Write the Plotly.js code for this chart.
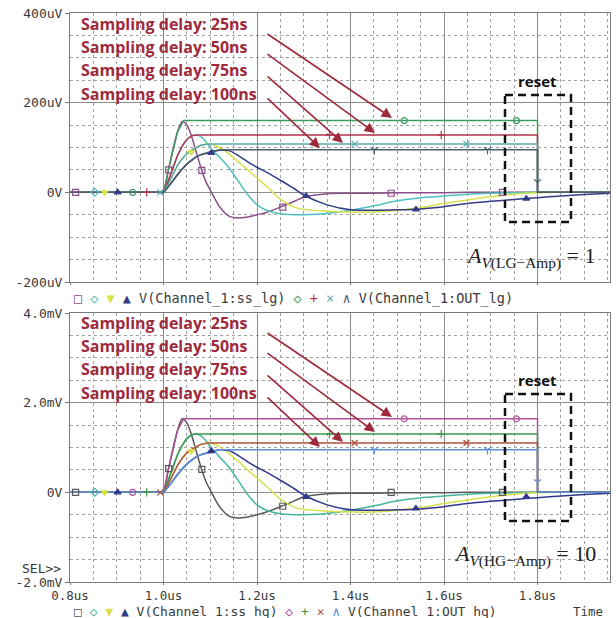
<!DOCTYPE html>
<html>
<head>
<meta charset="utf-8">
<script src="https://cdn.plot.ly/plotly-3.0.1.min.js"></script>
<style>html,body{margin:0;padding:0;background:#fff;}#chart{width:616px;height:618px;}</style>
</head>
<body>
<div id="chart"></div>
<script>
// ---------- DATA ----------
// common time grid (us) for the shaped pulses
const T = [0.8, 0.9, 0.99, 1.0, 1.01, 1.02, 1.03, 1.04, 1.05, 1.06, 1.07, 1.08, 1.09, 1.1, 1.12, 1.14, 1.16, 1.18, 1.2, 1.22, 1.25, 1.28, 1.3, 1.35, 1.4, 1.45, 1.5, 1.55, 1.6, 1.65, 1.7, 1.75, 1.8, 1.85, 1.9, 1.955];

// top panel pulses V(Channel_1:ss_lg), uV
const ssLg1 = [0,0,0,0,48,95,135,158,150,125,90,55,25,5,-32,-53,-57,-55,-50,-45,-33,-20,-11,-3,-2,-2,-1,-1,-1,0,0,0,0,0,0,0];
const ssLg2 = [0,0,0,0,25,55,82,103,118,126,128,124,114,100,78,55,25,-5,-28,-40,-48,-50,-50,-47,-40,-30,-19,-12,-8,-4,-2,-1,0,0,0,0];
const ssLg3 = [0,0,0,0,18,40,60,75,86,94,100,105,108,108,100,86,68,50,32,14,-15,-33,-38,-42,-44,-44,-40,-34,-25,-17,-10,-4,-1,0,0,0];
const ssLg4 = [0,0,0,0,12,26,40,52,63,72,79,84,87,90,94,93,82,68,56,45,27,8,-6,-28,-39,-40,-39,-37,-32,-25,-20,-16,-12,-8,-5,-2];

// held outputs (sample & hold), time arrays shared by both panels
const tH1 = [0.8, 1.0, 1.01, 1.02, 1.03, 1.043, 1.8, 1.8, 1.955];
const tH2 = [0.8, 1.0, 1.01, 1.02, 1.03, 1.04, 1.05, 1.06, 1.068, 1.8, 1.8, 1.955];
const tH3 = [0.8, 1.0, 1.01, 1.02, 1.03, 1.04, 1.05, 1.06, 1.07, 1.08, 1.095, 1.8, 1.8, 1.955];
const tH4 = [0.8, 1.0, 1.01, 1.02, 1.03, 1.04, 1.05, 1.06, 1.07, 1.08, 1.09, 1.1, 1.12, 1.8, 1.8, 1.955];
const outLg1 = [0,0,48,95,135,160,160,0,0];
const outLg2 = [0,0,25,55,82,103,118,126,128,128,0,0];
const outLg3 = [0,0,18,40,60,75,86,94,100,105,108,108,0,0];
const outLg4 = [0,0,12,26,40,52,63,72,79,84,87,90,95,95,0,0];

// bottom panel pulses V(Channel_1:ss_hq), mV
const ssHq1 = [0,0,0,0,0.49,0.97,1.38,1.64,1.55,1.28,0.92,0.56,0.26,0.05,-0.32,-0.53,-0.57,-0.55,-0.50,-0.44,-0.32,-0.19,-0.10,-0.03,-0.02,-0.02,-0.01,-0.01,-0.01,0,0,0,0,0,0,0];
const ssHq2 = [0,0,0,0,0.26,0.56,0.84,1.05,1.20,1.28,1.30,1.26,1.16,1.02,0.79,0.56,0.26,-0.05,-0.28,-0.40,-0.48,-0.50,-0.50,-0.47,-0.40,-0.30,-0.19,-0.12,-0.08,-0.04,-0.02,-0.01,0,0,0,0];
const ssHq3 = [0,0,0,0,0.18,0.40,0.60,0.76,0.88,0.96,1.02,1.07,1.10,1.10,1.02,0.87,0.69,0.50,0.32,0.14,-0.15,-0.33,-0.38,-0.42,-0.44,-0.44,-0.40,-0.34,-0.25,-0.17,-0.10,-0.04,-0.01,0,0,0];
const ssHq4 = [0,0,0,0,0.12,0.26,0.40,0.52,0.63,0.72,0.79,0.84,0.87,0.90,0.95,0.93,0.82,0.68,0.56,0.45,0.27,0.08,-0.06,-0.28,-0.39,-0.40,-0.39,-0.37,-0.32,-0.25,-0.20,-0.16,-0.12,-0.08,-0.05,-0.02];
const outHq1 = [0,0,0.49,0.97,1.38,1.64,1.64,0,0];
const outHq2 = [0,0,0.26,0.56,0.84,1.05,1.20,1.28,1.30,1.30,0,0];
const outHq3 = [0,0,0.18,0.40,0.60,0.76,0.88,0.96,1.02,1.07,1.10,1.10,0,0];
const outHq4 = [0,0,0.12,0.26,0.40,0.52,0.63,0.72,0.79,0.84,0.87,0.90,0.95,0.95,0,0];

// trace marker positions (PSpice symbols)
const mkT_ss1 = [0.812, 1.011, 1.082, 1.255, 1.487, 1.725];
const mkLg_ss1 = [0, 50, 49, -33, -2, 0];
const mkHq_ss1 = [0, 0.53, 0.51, -0.31, 0, 0];
const mkT_ss2 = [0.853];
const mkLg_ss2 = [0];
const mkHq_ss2 = [0];
const mkT_ss3 = [0.874, 1.059];
const mkLg_ss3 = [0, 90];
const mkHq_ss3 = [0, 0.92];
const mkT_ss4 = [0.902, 1.102, 1.305, 1.54, 1.776];
const mkLg_ss4 = [0, 88, -8, -38, -14];
const mkHq_ss4 = [0, 0.92, -0.10, -0.36, -0.10];
const mkT_out1 = [0.934, 1.515, 1.755];
const mkLg_out1 = [0, 160, 160];
const mkHq_out1 = [0, 1.64, 1.64];
const mkT_out2 = [0.964, 1.355, 1.594];
const mkLg_out2 = [0, 128, 128];
const mkHq_out2 = [0, 1.30, 1.30];
const mkT_out3 = [0.993, 1.409, 1.648];
const mkLg_out3 = [0, 108, 108];
const mkHq_out3 = [0, 1.10, 1.10];
const mkT_out4 = [1.451, 1.693, 1.8];
const mkLg_out4 = [95, 95, 23];
const mkHq_out4 = [0.95, 0.95, 0.23];

// tick labels
const xTickVals = [0.8, 1.0, 1.2, 1.4, 1.6, 1.8];
const xTickText = ['0.8us', '1.0us', '1.2us', '1.4us', '1.6us', '1.8us'];
const yTopVals = [-200, 0, 200, 400];
const yTopText = ['-200uV', '0V', '200uV', '400uV'];
const yBotVals = [-2, 0, 2, 4];
const yBotText = ['-2.0mV', '0V', '2.0mV', '4.0mV'];

const delayLabels = ['Sampling delay: 25ns', 'Sampling delay: 50ns', 'Sampling delay: 75ns', 'Sampling delay: 100ns'];

// ---------- STYLE ----------
const cTop = {ss: ['#8c4f8c', '#4fc0c0', '#d6e04a', '#343c86'], out: ['#3f9a5f', '#b4334f', '#5aaab0', '#4f5e6c']};
const cBot = {ss: ['#5a5a5a', '#45b5a0', '#d6e04a', '#30388c'], out: ['#b0509a', '#3c9a48', '#b05040', '#5a90d8']};
const ssSym = ['square-open', 'diamond-open', 'triangle-down', 'triangle-up'];
const outSym = ['circle-open', 'cross-thin-open', 'x-thin-open', 'y-down-open'];

const ML = 70, MR = 6, MT = 13, MB = 36, W = 616, H = 618;
const PW = W - ML - MR, PH = H - MT - MB;
const px2x = px => (px - ML) / PW;
const px2y = py => (H - MB - py) / PH;

const traces = [];
function addPanel(xa, ya, ssList, outList, mkSS, mkOut, colors) {
  ssList.forEach((v, i) => traces.push({x: T, y: v, xaxis: xa, yaxis: ya, mode: 'lines',
    line: {color: colors.ss[i], width: 1.5, shape: 'spline', smoothing: 0.8}, hoverinfo: 'skip'}));
  const tH = [tH1, tH2, tH3, tH4];
  outList.forEach((v, i) => traces.push({x: tH[i], y: v, xaxis: xa, yaxis: ya, mode: 'lines',
    line: {color: colors.out[i], width: 1.5}, hoverinfo: 'skip'}));
  mkSS.forEach((m, i) => traces.push({x: m[0], y: m[1], xaxis: xa, yaxis: ya, mode: 'markers',
    marker: {symbol: ssSym[i], size: 6, color: colors.ss[i], line: {color: colors.ss[i], width: 1.2}}, hoverinfo: 'skip'}));
  mkOut.forEach((m, i) => traces.push({x: m[0], y: m[1], xaxis: xa, yaxis: ya, mode: 'markers',
    marker: {symbol: outSym[i], size: 6, color: colors.out[i], line: {color: colors.out[i], width: 1.2}}, hoverinfo: 'skip'}));
}
addPanel('x', 'y', [ssLg1, ssLg2, ssLg3, ssLg4], [outLg1, outLg2, outLg3, outLg4],
  [[mkT_ss1, mkLg_ss1], [mkT_ss2, mkLg_ss2], [mkT_ss3, mkLg_ss3], [mkT_ss4, mkLg_ss4]],
  [[mkT_out1, mkLg_out1], [mkT_out2, mkLg_out2], [mkT_out3, mkLg_out3], [mkT_out4, mkLg_out4]], cTop);
addPanel('x2', 'y2', [ssHq1, ssHq2, ssHq3, ssHq4], [outHq1, outHq2, outHq3, outHq4],
  [[mkT_ss1, mkHq_ss1], [mkT_ss2, mkHq_ss2], [mkT_ss3, mkHq_ss3], [mkT_ss4, mkHq_ss4]],
  [[mkT_out1, mkHq_out1], [mkT_out2, mkHq_out2], [mkT_out3, mkHq_out3], [mkT_out4, mkHq_out4]], cBot);

const tickFont = {family: 'DejaVu Sans Mono', size: 13, color: '#3a3a3a'};
const xTickFont = {family: 'DejaVu Sans Mono', size: 12.5, color: '#3a3a3a'};
function xAxis(anchor, labels) {
  return {range: [0.8, 1.955], domain: [0, 1], anchor: anchor, tickmode: 'array', tickvals: xTickVals, ticktext: xTickText,
    showticklabels: labels, ticks: 'outside', ticklen: 2, tickcolor: '#777', tickfont: xTickFont,
    showgrid: true, gridcolor: '#8c8c8c', gridwidth: 1, zeroline: false, showline: true, linecolor: '#7a7a7a', linewidth: 1, mirror: true,
    minor: {tickmode: 'linear', tick0: 0.8, dtick: 0.05, showgrid: true, gridcolor: '#a0a0a0', griddash: '3px,3px', gridwidth: 1, ticks: ''},
    fixedrange: true};
}
function yAxis(anchor, dom, rng, vals, text, mdt) {
  return {range: rng, domain: dom, anchor: anchor, tickmode: 'array', tickvals: vals, ticktext: text,
    ticks: 'outside', ticklen: 4, tickcolor: '#777', tickfont: tickFont,
    showgrid: true, gridcolor: '#8c8c8c', gridwidth: 1, zeroline: false, showline: true, linecolor: '#7a7a7a', linewidth: 1, mirror: true,
    minor: {tickmode: 'linear', tick0: rng[0], dtick: mdt, showgrid: true, gridcolor: '#a0a0a0', griddash: '3px,3px', gridwidth: 1, ticks: ''},
    fixedrange: true};
}

const annotations = [];
const shapes = [];
const red = '#9e2a3c';
function panelDeco(dy, colors, ssName, outName, gainText, gainY, legY, legSize) {
  delayLabels.forEach((s, i) => annotations.push({xref: 'paper', yref: 'paper', x: px2x(79), y: px2y(24 + dy + i * 23.2),
    xanchor: 'left', yanchor: 'middle', showarrow: false, text: '<b>' + s + '</b>',
    font: {family: 'Open Sans', size: 16, color: red}}));
  const heads = [[392, 118], [375, 133], [343, 143], [320, 148]];
  const tails = [[266, 33], [266, 53], [266, 75], [266, 97]];
  heads.forEach((h, i) => annotations.push({xref: 'paper', yref: 'paper', x: px2x(h[0]), y: px2y(h[1] + dy),
    ax: tails[i][0] - h[0], ay: tails[i][1] - h[1], text: '', showarrow: true, arrowhead: 2, arrowsize: 1.3,
    arrowwidth: 1.6, arrowcolor: red, standoff: 0}));
  shapes.push({type: 'rect', xref: 'paper', yref: 'paper', x0: px2x(505), x1: px2x(571), y0: px2y(95 + dy), y1: px2y(222 + dy),
    line: {color: '#111', width: 2.5, dash: '8px,5px'}});
  annotations.push({xref: 'paper', yref: 'paper', x: px2x(537), y: px2y(81 + dy), xanchor: 'center', yanchor: 'middle',
    showarrow: false, text: '<b>reset</b>', font: {family: 'Open Sans', size: 15, color: '#111'}});
  annotations.push({xref: 'paper', yref: 'paper', x: px2x(598), y: px2y(gainY), xanchor: 'right', yanchor: 'middle', showarrow: false,
    text: gainText, font: {family: 'Liberation Serif', size: 22, color: '#222'}});
  const sp = (c, t) => '<span style="color:' + c + '">' + t + '</span>';
  const leg = sp(colors.ss[0], '□') + ' ' + sp(colors.ss[1], '◇') + ' ' + sp(colors.ss[2], '▼') + ' ' + sp(colors.ss[3], '▲') + ' ' + ssName +
    ' ' + sp(colors.out[0], '◇') + ' ' + sp(colors.out[1], '+') + ' ' + sp(colors.out[2], '×') + ' ' + sp(colors.out[3], '∧') + ' ' + outName;
  annotations.push({xref: 'paper', yref: 'paper', x: px2x(72), y: px2y(legY), xanchor: 'left', yanchor: 'middle', showarrow: false,
    text: leg, font: {family: 'DejaVu Sans Mono', size: legSize, color: '#3a3a3a'}});
}
panelDeco(0, cTop, 'V(Channel_1:ss_lg)', 'V(Channel_1:OUT_lg)', '<i>A</i><sub><i>V</i>(LG−Amp)</sub> = 1', 257, 298, 13.5);
panelDeco(299, cBot, 'V(Channel_1:ss_hq)', 'V(Channel_1:OUT_hq)', '<i>A</i><sub><i>V</i>(HG−Amp)</sub> = 10', 555, 611.5, 13);
annotations.push({xref: 'paper', yref: 'paper', x: px2x(605), y: px2y(611.5), xanchor: 'right', yanchor: 'middle', showarrow: false,
  text: 'Time', font: {family: 'DejaVu Sans Mono', size: 12.5, color: '#3a3a3a'}});
annotations.push({xref: 'paper', yref: 'paper', x: px2x(63), y: px2y(568), xanchor: 'right', yanchor: 'middle', showarrow: false,
  text: 'SEL>>', font: {family: 'DejaVu Sans Mono', size: 13, color: '#3a3a3a'}});

const topDom = [(H - MB - 282) / PH, 1];
const botDom = [0, (H - MB - 313) / PH];

const layout = {
  width: W, height: H, margin: {l: ML, r: MR, t: MT, b: MB}, paper_bgcolor: '#fff', plot_bgcolor: '#fff', showlegend: false,
  xaxis: xAxis('y', false), yaxis: yAxis('x', topDom, [-200, 400], yTopVals, yTopText, 50),
  xaxis2: xAxis('y2', true), yaxis2: yAxis('x2', botDom, [-2, 4], yBotVals, yBotText, 0.5),
  annotations: annotations, shapes: shapes
};
Plotly.newPlot('chart', traces, layout, {staticPlot: true, displayModeBar: false});
</script>
</body>
</html>
